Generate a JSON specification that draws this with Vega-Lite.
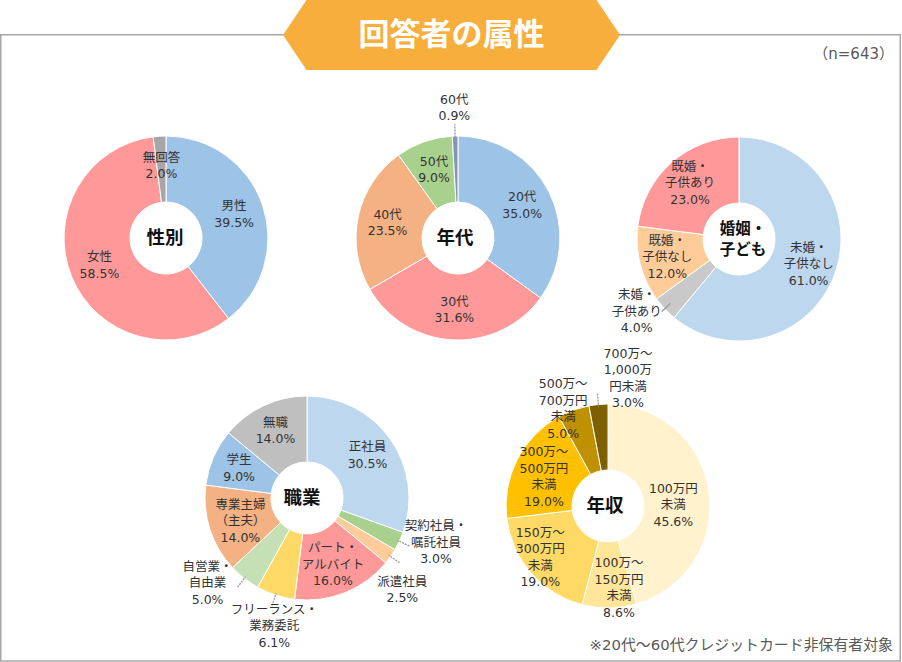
{
  "$schema": "https://vega.github.io/schema/vega-lite/v6.json",
  "width": 902,
  "height": 662,
  "autosize": {"type": "none"},
  "padding": 0,
  "background": "white",
  "config": {
    "view": {"stroke": null},
    "text": {"font": "DejaVu Sans, Noto Sans CJK JP", "fontSize": 12.5, "lineHeight": 16.5, "lineBreak": "\n", "fill": "#333333"}
  },
  "datasets": {
    "slices": [
      {"chart": "性別", "ord": 1, "category": "男性", "value": 39.5, "label": "男性\n39.5%"},
      {"chart": "性別", "ord": 2, "category": "女性", "value": 58.5, "label": "女性\n58.5%"},
      {"chart": "性別", "ord": 3, "category": "無回答", "value": 2.0, "label": "無回答\n2.0%"},
      {"chart": "年代", "ord": 1, "category": "20代", "value": 35.0, "label": "20代\n35.0%"},
      {"chart": "年代", "ord": 2, "category": "30代", "value": 31.6, "label": "30代\n31.6%"},
      {"chart": "年代", "ord": 3, "category": "40代", "value": 23.5, "label": "40代\n23.5%"},
      {"chart": "年代", "ord": 4, "category": "50代", "value": 9.0, "label": "50代\n9.0%"},
      {"chart": "年代", "ord": 5, "category": "60代", "value": 0.9, "label": "60代\n0.9%"},
      {"chart": "婚姻・\n子ども", "ord": 1, "category": "未婚・子供なし", "value": 61.0, "label": "未婚・\n子供なし\n61.0%"},
      {"chart": "婚姻・\n子ども", "ord": 2, "category": "未婚・子供あり", "value": 4.0, "label": "未婚・\n子供あり\n4.0%"},
      {"chart": "婚姻・\n子ども", "ord": 3, "category": "既婚・子供なし", "value": 12.0, "label": "既婚・\n子供なし\n12.0%"},
      {"chart": "婚姻・\n子ども", "ord": 4, "category": "既婚・子供あり", "value": 23.0, "label": "既婚・\n子供あり\n23.0%"},
      {"chart": "職業", "ord": 1, "category": "正社員", "value": 30.5, "label": "正社員\n30.5%"},
      {"chart": "職業", "ord": 2, "category": "契約社員・嘱託社員", "value": 3.0, "label": "契約社員・\n嘱託社員\n3.0%"},
      {"chart": "職業", "ord": 3, "category": "派遣社員", "value": 2.5, "label": "派遣社員\n2.5%"},
      {"chart": "職業", "ord": 4, "category": "パート・アルバイト", "value": 16.0, "label": "パート・\nアルバイト\n16.0%"},
      {"chart": "職業", "ord": 5, "category": "フリーランス・業務委託", "value": 6.1, "label": "フリーランス・\n業務委託\n6.1%"},
      {"chart": "職業", "ord": 6, "category": "自営業・自由業", "value": 5.0, "label": "自営業・\n自由業\n5.0%"},
      {"chart": "職業", "ord": 7, "category": "専業主婦（主夫）", "value": 14.0, "label": "専業主婦\n（主夫）\n14.0%"},
      {"chart": "職業", "ord": 8, "category": "学生", "value": 9.0, "label": "学生\n9.0%"},
      {"chart": "職業", "ord": 9, "category": "無職", "value": 14.0, "label": "無職\n14.0%"},
      {"chart": "年収", "ord": 1, "category": "100万円未満", "value": 45.6, "label": "100万円\n未満\n45.6%"},
      {"chart": "年収", "ord": 2, "category": "100万～150万円未満", "value": 8.6, "label": "100万～\n150万円\n未満\n8.6%"},
      {"chart": "年収", "ord": 3, "category": "150万～300万円未満", "value": 19.0, "label": "150万～\n300万円\n未満\n19.0%"},
      {"chart": "年収", "ord": 4, "category": "300万～500万円未満", "value": 19.0, "label": "300万～\n500万円\n未満\n19.0%"},
      {"chart": "年収", "ord": 5, "category": "500万～700万円未満", "value": 5.0, "label": "500万～\n700万円\n未満\n5.0%"},
      {"chart": "年収", "ord": 6, "category": "700万～1,000万円未満", "value": 3.0, "label": "700万～\n1,000万\n円未満\n3.0%"}
    ],
    "notes": [
      {"kind": "title", "text": "回答者の属性"},
      {"kind": "n", "text": "（n=643）"},
      {"kind": "note", "text": "※20代～60代クレジットカード非保有者対象"}
    ]
  },
  "layer": [
    {
      "data": {"name": "notes"},
      "transform": [{"filter": {"field": "kind", "equal": "title"}}],
      "mark": {"type": "rect", "fill": null, "stroke": "#a6a6a6", "strokeWidth": 1.5},
      "encoding": {
        "x": {"datum": 0.75, "type": "quantitative", "scale": {"domain": [0, 902], "nice": false, "zero": false}, "axis": null},
        "x2": {"datum": 900.25},
        "y": {"datum": 34.75, "type": "quantitative", "scale": {"domain": [0, 662], "nice": false, "zero": false, "reverse": true}, "axis": null},
        "y2": {"datum": 661}
      }
    },
    {
      "data": {"name": "notes"},
      "transform": [{"filter": {"field": "kind", "equal": "title"}}],
      "encoding": {
        "x": {"datum": 451.5, "type": "quantitative", "scale": {"domain": [0, 902], "nice": false, "zero": false}, "axis": null},
        "y": {"datum": 35, "type": "quantitative", "scale": {"domain": [0, 662], "nice": false, "zero": false, "reverse": true}, "axis": null}
      },
      "layer": [
        {"mark": {"type": "point", "shape": "M-1,0L-0.8605,-0.2077L0.8605,-0.2077L1,0L0.8605,0.2077L-0.8605,0.2077Z", "size": 113569, "filled": true, "fill": "#f8ae3c", "opacity": 1, "strokeWidth": 0}},
        {"mark": {"type": "text", "font": "Noto Sans CJK JP", "fill": "white", "fontSize": 31, "fontWeight": "bold", "dy": 1}, "encoding": {"text": {"field": "text"}}}
      ]
    },
    {
      "data": {"name": "notes"},
      "transform": [{"filter": {"field": "kind", "equal": "n"}}],
      "mark": {"type": "text", "align": "right", "fontSize": 15, "fill": "#595959"},
      "encoding": {
        "x": {"datum": 894, "type": "quantitative", "scale": {"domain": [0, 902], "nice": false, "zero": false}, "axis": null},
        "y": {"datum": 54, "type": "quantitative", "scale": {"domain": [0, 662], "nice": false, "zero": false, "reverse": true}, "axis": null},
        "text": {"field": "text"}
      }
    },
    {
      "data": {"name": "notes"},
      "transform": [{"filter": {"field": "kind", "equal": "note"}}],
      "mark": {"type": "text", "align": "right", "fontSize": 14.9, "fill": "#595959"},
      "encoding": {
        "x": {"datum": 893, "type": "quantitative", "scale": {"domain": [0, 902], "nice": false, "zero": false}, "axis": null},
        "y": {"datum": 646, "type": "quantitative", "scale": {"domain": [0, 662], "nice": false, "zero": false, "reverse": true}, "axis": null},
        "text": {"field": "text"}
      }
    },
    {
      "data": {"name": "slices"},
      "transform": [{"filter": {"field": "chart", "equal": "性別"}}],
      "encoding": {
        "x": {"datum": 166, "type": "quantitative", "scale": {"domain": [0, 902], "nice": false, "zero": false}, "axis": null},
        "y": {"datum": 238, "type": "quantitative", "scale": {"domain": [0, 662], "nice": false, "zero": false, "reverse": true}, "axis": null}
      },
      "layer": [
        {"mark": {"type": "arc", "radius": 102, "radius2": 36, "stroke": "white", "strokeWidth": 1},
         "encoding": {
           "theta": {"field": "value", "type": "quantitative", "stack": "normalize"},
           "order": {"field": "ord", "type": "quantitative"},
           "color": {"field": "category", "type": "nominal", "legend": null,
             "scale": {
               "domain": ["男性", "女性", "無回答", "20代", "30代", "40代", "50代", "60代", "未婚・子供なし", "未婚・子供あり", "既婚・子供なし", "既婚・子供あり", "正社員", "契約社員・嘱託社員", "派遣社員", "パート・アルバイト", "フリーランス・業務委託", "自営業・自由業", "専業主婦（主夫）", "学生", "無職", "100万円未満", "100万～150万円未満", "150万～300万円未満", "300万～500万円未満", "500万～700万円未満", "700万～1,000万円未満"],
               "range": ["#9dc3e6", "#ff9999", "#a6a6a6", "#9dc3e6", "#ff9999", "#f4b183", "#a9d18e", "#8497b0", "#bdd7ee", "#c9c9c9", "#ffcc99", "#ff9999", "#bdd7ee", "#a9d18e", "#ffcc99", "#ff9999", "#ffd966", "#c5e0b4", "#f4b183", "#9dc3e6", "#bfbfbf", "#fff2cc", "#ffe699", "#ffd966", "#ffc000", "#bf9000", "#7f6000"]
             }}
         }},
        {"mark": {"type": "text", "radius": 72, "dy": -8.25},
         "encoding": {
           "theta": {"field": "value", "type": "quantitative", "stack": "normalize"},
           "order": {"field": "ord", "type": "quantitative"},
           "text": {"field": "label", "type": "nominal"}
         }},
        {"transform": [{"filter": {"field": "ord", "equal": 1}}],
         "mark": {"type": "text", "font": "Noto Sans CJK JP", "fontSize": 18.5, "fontWeight": "bold", "fill": "#111111", "lineHeight": 23, "dx": -1},
         "encoding": {"text": {"field": "chart", "type": "nominal"}}}
      ]
    },
    {
      "data": {"name": "slices"},
      "transform": [{"filter": {"field": "chart", "equal": "年代"}}],
      "encoding": {
        "x": {"datum": 458, "type": "quantitative", "scale": {"domain": [0, 902], "nice": false, "zero": false}, "axis": null},
        "y": {"datum": 238, "type": "quantitative", "scale": {"domain": [0, 662], "nice": false, "zero": false, "reverse": true}, "axis": null}
      },
      "layer": [
        {"mark": {"type": "arc", "radius": 102, "radius2": 36, "stroke": "white", "strokeWidth": 1},
         "encoding": {
           "theta": {"field": "value", "type": "quantitative", "stack": "normalize"},
           "order": {"field": "ord", "type": "quantitative"},
           "color": {"field": "category", "type": "nominal", "legend": null}
         }},
        {"mark": {"type": "arc", "radius": 114, "radius2": 100, "padAngle": 1, "fillOpacity": 0, "stroke": "#9a9a9a", "strokeWidth": 1.3, "strokeDash": [1.5, 1.5]},
         "encoding": {
           "theta": {"field": "value", "type": "quantitative", "stack": "normalize"},
           "order": {"field": "ord", "type": "quantitative"},
           "strokeOpacity": {"condition": {"test": "datum.value < 6.5", "value": 1}, "value": 0}
         }},
        {"mark": {"type": "text", "radius": 72, "dy": -8.25},
         "encoding": {
           "theta": {"field": "value", "type": "quantitative", "stack": "normalize"},
           "order": {"field": "ord", "type": "quantitative"},
           "text": {"condition": {"test": "datum.value >= 6.5", "field": "label", "type": "nominal"}, "value": ""}
         }},
        {"mark": {"type": "text", "radius": 130, "dy": -8.25},
         "encoding": {
           "theta": {"field": "value", "type": "quantitative", "stack": "normalize"},
           "order": {"field": "ord", "type": "quantitative"},
           "text": {"condition": {"test": "datum.category === '60代'", "field": "label", "type": "nominal"}, "value": ""}
         }},
        {"transform": [{"filter": {"field": "ord", "equal": 1}}],
         "mark": {"type": "text", "font": "Noto Sans CJK JP", "fontSize": 18.5, "fontWeight": "bold", "fill": "#111111", "lineHeight": 23, "dx": -3},
         "encoding": {"text": {"field": "chart", "type": "nominal"}}}
      ]
    },
    {
      "data": {"name": "slices"},
      "transform": [{"filter": {"field": "chart", "equal": "婚姻・\n子ども"}}],
      "encoding": {
        "x": {"datum": 739, "type": "quantitative", "scale": {"domain": [0, 902], "nice": false, "zero": false}, "axis": null},
        "y": {"datum": 239, "type": "quantitative", "scale": {"domain": [0, 662], "nice": false, "zero": false, "reverse": true}, "axis": null}
      },
      "layer": [
        {"mark": {"type": "arc", "radius": 102, "radius2": 36, "stroke": "white", "strokeWidth": 1},
         "encoding": {
           "theta": {"field": "value", "type": "quantitative", "stack": "normalize"},
           "order": {"field": "ord", "type": "quantitative"},
           "color": {"field": "category", "type": "nominal", "legend": null}
         }},
        {"mark": {"type": "arc", "radius": 106, "radius2": 94, "padAngle": 1, "fillOpacity": 0, "stroke": "#9a9a9a", "strokeWidth": 1.3, "strokeDash": [1.5, 1.5]},
         "encoding": {
           "theta": {"field": "value", "type": "quantitative", "stack": "normalize"},
           "order": {"field": "ord", "type": "quantitative"},
           "strokeOpacity": {"condition": {"test": "datum.value < 6.5", "value": 1}, "value": 0}
         }},
        {"mark": {"type": "text", "radius": 74, "dy": -16.5},
         "encoding": {
           "theta": {"field": "value", "type": "quantitative", "stack": "normalize"},
           "order": {"field": "ord", "type": "quantitative"},
           "text": {"condition": {"test": "datum.value >= 6.5", "field": "label", "type": "nominal"}, "value": ""}
         }},
        {"mark": {"type": "text", "radius": 106, "dx": -25, "dy": -16.5},
         "encoding": {
           "theta": {"field": "value", "type": "quantitative", "stack": "normalize"},
           "order": {"field": "ord", "type": "quantitative"},
           "text": {"condition": {"test": "datum.category === '未婚・子供あり'", "field": "label", "type": "nominal"}, "value": ""}
         }},
        {"transform": [{"filter": {"field": "ord", "equal": 1}}],
         "mark": {"type": "text", "font": "Noto Sans CJK JP", "fontSize": 15.5, "fontWeight": "bold", "fill": "#111111", "lineHeight": 21, "dy": -10.5, "dx": 4},
         "encoding": {"text": {"field": "chart", "type": "nominal"}}}
      ]
    },
    {
      "data": {"name": "slices"},
      "transform": [{"filter": {"field": "chart", "equal": "職業"}}],
      "encoding": {
        "x": {"datum": 307, "type": "quantitative", "scale": {"domain": [0, 902], "nice": false, "zero": false}, "axis": null},
        "y": {"datum": 498, "type": "quantitative", "scale": {"domain": [0, 662], "nice": false, "zero": false, "reverse": true}, "axis": null}
      },
      "layer": [
        {"mark": {"type": "arc", "radius": 102, "radius2": 36, "stroke": "white", "strokeWidth": 1},
         "encoding": {
           "theta": {"field": "value", "type": "quantitative", "stack": "normalize"},
           "order": {"field": "ord", "type": "quantitative"},
           "color": {"field": "category", "type": "nominal", "legend": null}
         }},
        {"mark": {"type": "arc", "radius": 113, "radius2": 100, "padAngle": 1, "fillOpacity": 0, "stroke": "#9a9a9a", "strokeWidth": 1.3, "strokeDash": [1.5, 1.5]},
         "encoding": {
           "theta": {"field": "value", "type": "quantitative", "stack": "normalize"},
           "order": {"field": "ord", "type": "quantitative"},
           "strokeOpacity": {"condition": {"test": "datum.value < 6.5", "value": 1}, "value": 0}
         }},
        {"mark": {"type": "text", "radius": 74, "dy": -8.25},
         "encoding": {
           "theta": {"field": "value", "type": "quantitative", "stack": "normalize"},
           "order": {"field": "ord", "type": "quantitative"},
           "text": {"condition": {"test": "datum.category === '正社員' || datum.category === '学生' || datum.category === '無職'", "field": "label", "type": "nominal"}, "value": ""}
         }},
        {"mark": {"type": "text", "radius": 70, "dy": -15},
         "encoding": {
           "theta": {"field": "value", "type": "quantitative", "stack": "normalize"},
           "order": {"field": "ord", "type": "quantitative"},
           "text": {"condition": {"test": "datum.category === 'パート・アルバイト' || datum.category === '専業主婦（主夫）'", "field": "label", "type": "nominal"}, "value": ""}
         }},
        {"mark": {"type": "text", "radius": 106, "dx": 33, "dy": -16.5},
         "encoding": {
           "theta": {"field": "value", "type": "quantitative", "stack": "normalize"},
           "order": {"field": "ord", "type": "quantitative"},
           "text": {"condition": {"test": "datum.category === '契約社員・嘱託社員'", "field": "label", "type": "nominal"}, "value": ""}
         }},
        {"mark": {"type": "text", "radius": 120, "dy": 14.75, "dx": -3},
         "encoding": {
           "theta": {"field": "value", "type": "quantitative", "stack": "normalize"},
           "order": {"field": "ord", "type": "quantitative"},
           "text": {"condition": {"test": "datum.category === '派遣社員'", "field": "label", "type": "nominal"}, "value": ""}
         }},
        {"mark": {"type": "text", "radius": 135, "dx": 9, "dy": -16.5},
         "encoding": {
           "theta": {"field": "value", "type": "quantitative", "stack": "normalize"},
           "order": {"field": "ord", "type": "quantitative"},
           "text": {"condition": {"test": "datum.category === 'フリーランス・業務委託'", "field": "label", "type": "nominal"}, "value": ""}
         }},
        {"mark": {"type": "text", "radius": 108, "dx": -33, "dy": -16.5},
         "encoding": {
           "theta": {"field": "value", "type": "quantitative", "stack": "normalize"},
           "order": {"field": "ord", "type": "quantitative"},
           "text": {"condition": {"test": "datum.category === '自営業・自由業'", "field": "label", "type": "nominal"}, "value": ""}
         }},
        {"transform": [{"filter": {"field": "ord", "equal": 1}}],
         "mark": {"type": "text", "font": "Noto Sans CJK JP", "fontSize": 18.5, "fontWeight": "bold", "fill": "#111111", "lineHeight": 23, "dx": -5},
         "encoding": {"text": {"field": "chart", "type": "nominal"}}}
      ]
    },
    {
      "data": {"name": "slices"},
      "transform": [{"filter": {"field": "chart", "equal": "年収"}}],
      "encoding": {
        "x": {"datum": 608, "type": "quantitative", "scale": {"domain": [0, 902], "nice": false, "zero": false}, "axis": null},
        "y": {"datum": 506, "type": "quantitative", "scale": {"domain": [0, 662], "nice": false, "zero": false, "reverse": true}, "axis": null}
      },
      "layer": [
        {"mark": {"type": "arc", "radius": 102, "radius2": 36, "stroke": "white", "strokeWidth": 1},
         "encoding": {
           "theta": {"field": "value", "type": "quantitative", "stack": "normalize"},
           "order": {"field": "ord", "type": "quantitative"},
           "color": {"field": "category", "type": "nominal", "legend": null}
         }},
        {"mark": {"type": "arc", "radius": 113, "radius2": 100, "padAngle": 1, "fillOpacity": 0, "stroke": "#9a9a9a", "strokeWidth": 1.3, "strokeDash": [1.5, 1.5]},
         "encoding": {
           "theta": {"field": "value", "type": "quantitative", "stack": "normalize"},
           "order": {"field": "ord", "type": "quantitative"},
           "strokeOpacity": {"condition": {"test": "datum.category === '700万～1,000万円未満'", "value": 1}, "value": 0}
         }},
        {"mark": {"type": "text", "radius": 66, "dy": -8},
         "encoding": {
           "theta": {"field": "value", "type": "quantitative", "stack": "normalize"},
           "order": {"field": "ord", "type": "quantitative"},
           "text": {"condition": {"test": "datum.category === '100万円未満'", "field": "label", "type": "nominal"}, "value": ""}
         }},
        {"mark": {"type": "text", "radius": 78, "dx": 10, "dy": -20.75},
         "encoding": {
           "theta": {"field": "value", "type": "quantitative", "stack": "normalize"},
           "order": {"field": "ord", "type": "quantitative"},
           "text": {"condition": {"test": "datum.category === '100万～150万円未満'", "field": "label", "type": "nominal"}, "value": ""}
         }},
        {"mark": {"type": "text", "radius": 78, "dx": -9, "dy": -24.75},
         "encoding": {
           "theta": {"field": "value", "type": "quantitative", "stack": "normalize"},
           "order": {"field": "ord", "type": "quantitative"},
           "text": {"condition": {"test": "datum.category === '150万～300万円未満'", "field": "label", "type": "nominal"}, "value": ""}
         }},
        {"mark": {"type": "text", "radius": 72, "dy": -20.75},
         "encoding": {
           "theta": {"field": "value", "type": "quantitative", "stack": "normalize"},
           "order": {"field": "ord", "type": "quantitative"},
           "text": {"condition": {"test": "datum.category === '300万～500万円未満'", "field": "label", "type": "nominal"}, "value": ""}
         }},
        {"mark": {"type": "text", "radius": 103, "dx": -10, "dy": -24.75},
         "encoding": {
           "theta": {"field": "value", "type": "quantitative", "stack": "normalize"},
           "order": {"field": "ord", "type": "quantitative"},
           "text": {"condition": {"test": "datum.category === '500万～700万円未満'", "field": "label", "type": "nominal"}, "value": ""}
         }},
        {"mark": {"type": "text", "radius": 128, "dx": 32, "dy": -24.75},
         "encoding": {
           "theta": {"field": "value", "type": "quantitative", "stack": "normalize"},
           "order": {"field": "ord", "type": "quantitative"},
           "text": {"condition": {"test": "datum.category === '700万～1,000万円未満'", "field": "label", "type": "nominal"}, "value": ""}
         }},
        {"transform": [{"filter": {"field": "ord", "equal": 1}}],
         "mark": {"type": "text", "font": "Noto Sans CJK JP", "fontSize": 18.5, "fontWeight": "bold", "fill": "#111111", "lineHeight": 23, "dx": -3},
         "encoding": {"text": {"field": "chart", "type": "nominal"}}}
      ]
    }
  ]
}
